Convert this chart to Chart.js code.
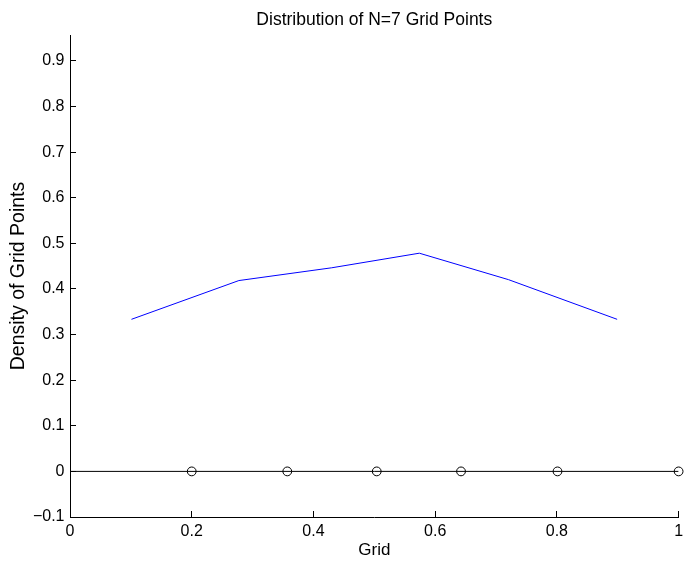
<!DOCTYPE html>
<html>
<head>
<meta charset="utf-8">
<title>Distribution of N=7 Grid Points</title>
<script src="https://cdn.jsdelivr.net/npm/chart.js@4/dist/chart.umd.min.js"></script>
<style>
  html, body { margin: 0; padding: 0; background: #ffffff; }
  #wrap { width: 684px; height: 565px; }
  canvas { display: block; }
</style>
</head>
<body>
<div id="wrap"><canvas id="chart" width="684" height="565"></canvas></div>
<script>
// Grid point locations (the point at 0 is the left boundary)
const gridPoints = [0.2, 0.357, 0.504, 0.6425, 0.801, 1.0];
const gridPointLevel = [0, 0, 0, 0, 0, 0];

// Density evaluated at the midpoint of each grid interval
const densityX = [0.101, 0.2775, 0.430, 0.574, 0.7205, 0.899];
const densityY = [0.3335, 0.4185, 0.4465, 0.4785, 0.4205, 0.3335];

// Reference line along zero
const zeroLineX = [0, 1];
const zeroLineY = [0, 0];

// Axis ticks
const xTickValues = [0, 0.2, 0.4, 0.6, 0.8, 1];
const yTickValues = [-0.1, 0, 0.1, 0.2, 0.3, 0.4, 0.5, 0.6, 0.7, 0.8, 0.9];
const yTop = 2 * Math.max(...densityY);

const FONT = '"Liberation Sans", Arial, Helvetica, sans-serif';

function fmt(v) {
  const r = Math.round(v * 10) / 10;
  const s = String(Math.abs(r));
  return r < 0 ? '\u2212' + s : s;
}

const toPoints = (xs, ys) => xs.map((x, i) => ({ x: x, y: ys[i] }));

// Title centred over the plotting area
const plotTitle = {
  id: 'plotTitle',
  afterDraw(chart) {
    const { ctx, chartArea } = chart;
    ctx.save();
    ctx.font = '17.5px ' + FONT;
    ctx.fillStyle = '#000000';
    ctx.textAlign = 'center';
    ctx.textBaseline = 'middle';
    ctx.fillText('Distribution of N=7 Grid Points', (chartArea.left + chartArea.right) / 2, 20);
    ctx.restore();
  }
};

new Chart(document.getElementById('chart'), {
  type: 'scatter',
  data: {
    datasets: [
      {
        label: 'density',
        data: toPoints(densityX, densityY),
        showLine: true,
        borderColor: '#0000ff',
        borderWidth: 1,
        pointRadius: 0,
        tension: 0
      },
      {
        label: 'zero',
        data: toPoints(zeroLineX, zeroLineY),
        showLine: true,
        borderColor: '#000000',
        borderWidth: 1,
        pointRadius: 0,
        tension: 0
      },
      {
        label: 'grid points',
        data: toPoints(gridPoints, gridPointLevel),
        showLine: false,
        pointStyle: 'circle',
        pointRadius: 4.4,
        pointBorderWidth: 1,
        pointBorderColor: '#000000',
        pointBackgroundColor: 'rgba(0,0,0,0)',
        clip: false
      }
    ]
  },
  options: {
    responsive: false,
    animation: false,
    devicePixelRatio: 1,
    events: [],
    layout: { padding: { top: 35, right: 3.7, left: 0, bottom: 0 } },
    plugins: {
      legend: { display: false },
      tooltip: { enabled: false },
      title: { display: false }
    },
    scales: {
      x: {
        type: 'linear',
        position: 'bottom',
        min: 0,
        max: 1,
        afterBuildTicks(scale) { scale.ticks = xTickValues.map(v => ({ value: v })); },
        afterFit(scale) {
          scale.height = 48;
          scale.paddingLeft = 0;
          scale.paddingRight = 0;
        },
        border: { display: true, color: '#000000', width: 1 },
        grid: { display: true, drawOnChartArea: false, drawTicks: true, tickLength: -6, tickColor: '#000000', tickWidth: 1 },
        ticks: {
          color: '#000000',
          font: { family: FONT, size: 16 },
          padding: 11,
          maxRotation: 0,
          autoSkip: false,
          callback: (v) => fmt(v)
        },
        title: {
          display: true,
          text: 'Grid',
          color: '#000000',
          font: { family: FONT, size: 17 },
          padding: { top: 0, bottom: 4 }
        }
      },
      y: {
        type: 'linear',
        position: 'left',
        min: -0.1,
        max: yTop,
        afterBuildTicks(scale) { scale.ticks = yTickValues.map(v => ({ value: v })); },
        afterFit(scale) {
          scale.width = 70;
          scale.paddingTop = 0;
          scale.paddingBottom = 0;
        },
        border: { display: true, color: '#000000', width: 1 },
        grid: { display: true, drawOnChartArea: false, drawTicks: true, tickLength: -6, tickColor: '#000000', tickWidth: 1 },
        ticks: {
          color: '#000000',
          font: { family: FONT, size: 16 },
          padding: 11.5,
          autoSkip: false,
          callback: (v) => fmt(v)
        },
        title: {
          display: true,
          text: 'Density of Grid Points',
          color: '#000000',
          font: { family: FONT, size: 19.5 },
          padding: { top: 7, bottom: 0 }
        }
      }
    }
  },
  plugins: [plotTitle]
});
</script>
</body>
</html>
